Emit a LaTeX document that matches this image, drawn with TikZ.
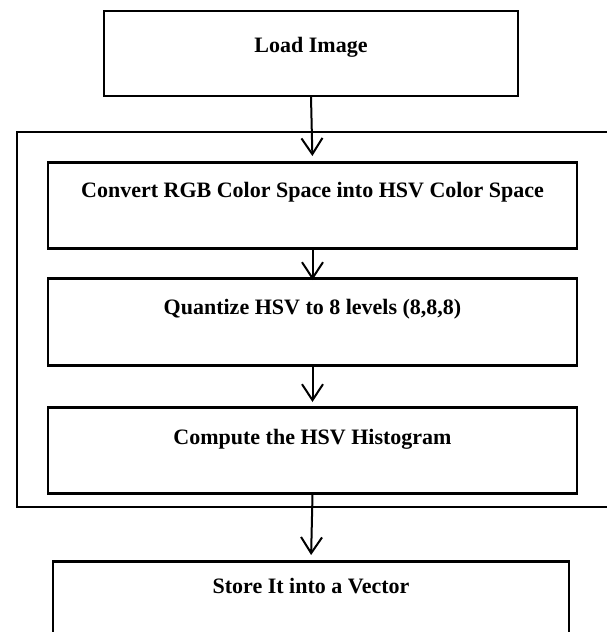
\documentclass[tikz,border=0pt]{standalone}
\usepackage{fontspec}
\setmainfont{Liberation Serif}
\usetikzlibrary{arrows.meta}

\tikzset{
  stepbox/.style={draw, line width=2.5pt, anchor=north, inner sep=0pt,
    font=\bfseries\fontsize{22}{26}\selectfont},
  flow/.style={line width=2pt, -{Straight Barb[length=16pt,width=21pt,line width=2pt]}}
}

\begin{document}
\begin{tikzpicture}[x=1pt,y=-1pt]
\useasboundingbox (0,0) rectangle (606,632);

%the steps of the chain
\node[stepbox, minimum width=414pt, text height=42pt, text depth=43pt] (load) at (311,9.5) {Load Image};
\node[stepbox, minimum width=529pt, text height=35pt, text depth=51pt] (convert) at (312.5,161) {Convert RGB Color Space into HSV Color Space};
\node[stepbox, minimum width=529pt, text height=36pt, text depth=51pt] (quantize) at (312.5,277) {Quantize HSV to 8 levels (8,8,8)};
\node[stepbox, minimum width=529pt, text height=37pt, text depth=49pt] (histogram) at (312.5,406) {Compute the HSV Histogram};
\node[stepbox, minimum width=516pt, text height=32pt, text depth=60pt] (store) at (311,560) {Store It into a Vector};

%box round the colour steps
\draw[line width=2.5pt] (17,132) rectangle (612,507);

%connect the steps
\draw[flow, shorten >=5pt] (load.south) -- (convert.north);
\draw[flow, shorten >=-3pt] (convert.south) -- (quantize.north);
\draw[flow, shorten >=4pt] (quantize.south) -- (histogram.north);
\draw[flow, shorten >=5pt] (histogram.south) -- (store.north);
\end{tikzpicture}
\end{document}
